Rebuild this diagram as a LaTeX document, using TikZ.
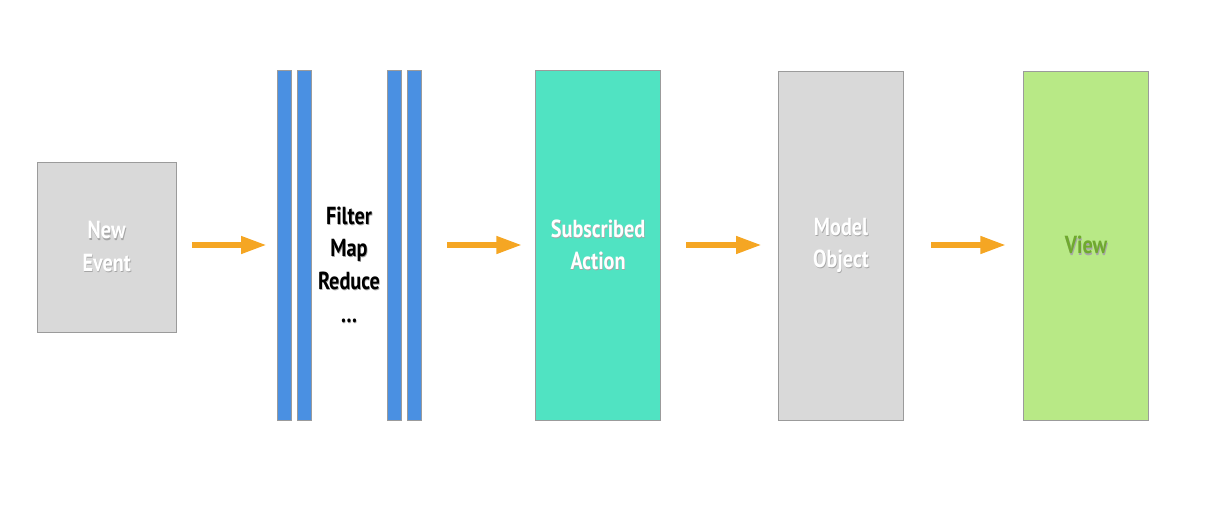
\documentclass[tikz,border=0pt]{standalone}
\usepackage{fontspec}
\setmainfont{PT Sans}[FakeStretch=0.82]
\usepackage{tikz}
\usetikzlibrary{arrows.meta,positioning}

\definecolor{boxgray}{HTML}{D9D9D9}
\definecolor{edgegray}{HTML}{9B9B9B}
\definecolor{barblue}{HTML}{4A90E2}
\definecolor{actiongreen}{HTML}{50E3C2}
\definecolor{viewgreen}{HTML}{B8E986}
\definecolor{viewtext}{HTML}{6FA92E}
\definecolor{flow}{HTML}{F5A623}

% soft drop shadow behind a word
\newcommand{\glow}[1]{\leavevmode\rlap{\textcolor{black!35}{\raisebox{-0.9pt}{\hspace{0.5pt}#1}}}#1}

\tikzset{
    stage/.style={draw=edgegray, line width=0.6pt, anchor=north west, inner sep=0pt,
        align=center, font=\fontsize{18.5}{24.5}\selectfont\bfseries, text=white},
    bar/.style={draw=edgegray, fill=barblue, line width=0.6pt, anchor=north west,
        inner sep=0pt, minimum width=10.5pt, minimum height=262.5pt},
    flowarrow/.style={draw=flow, line width=5.2pt,
        -{Triangle[length=20pt,width=12pt]}}
}

\begin{document}
\begin{tikzpicture}[x=0.75pt,y=-0.75pt]
    \useasboundingbox (0,0) rectangle (1210,510);

    % Incoming event
    \node[stage, fill=boxgray, minimum width=104pt, minimum height=127.5pt] (event) at (37,162) {\glow{New}\\\glow{Event}};

    % Operator bars
    \foreach \name/\x in {barA/277,barB/297,barC/387,barD/407}
        \node[bar] (\name) at (\x,70) {};
    \node[align=center, font=\fontsize{18.5}{24.5}\selectfont\bfseries] (ops) at (349,265) {\glow{Filter}\\\glow{Map}\\\glow{Reduce}\\\glow{\ldots}};

    % Downstream stages
    \node[stage, fill=actiongreen, minimum width=94pt, minimum height=262.5pt] (action) at (535,70) {\glow{Subscribed}\\\glow{Action}};
    \node[stage, fill=boxgray, minimum width=94pt, minimum height=261.75pt] (model) at (778,71) {\glow{Model}\\\glow{Object}};
    \node[stage, fill=viewgreen, text=viewtext, minimum width=94pt, minimum height=261.75pt] (view) at (1023,71) {\glow{View}};

    % Flow arrows
    \draw[flowarrow, shorten <=11.5pt, shorten >=7pt] (event.east |- 0,245) -- (barA.west |- 0,245);
    \draw[flowarrow, shorten <=19pt, shorten >=9pt] (barD.east |- 0,245) -- (action.west |- 0,245);
    \draw[flowarrow, shorten <=19pt, shorten >=11.5pt] (action.east |- 0,245) -- (model.west |- 0,245);
    \draw[flowarrow, shorten <=20.5pt, shorten >=12pt] (model.east |- 0,245) -- (view.west |- 0,245);
\end{tikzpicture}
\end{document}
